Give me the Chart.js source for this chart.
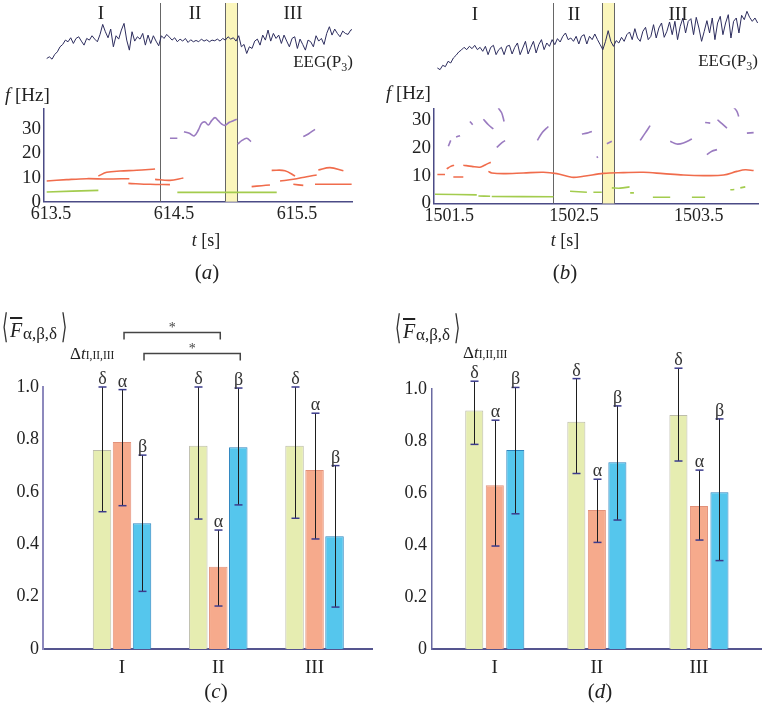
<!DOCTYPE html>
<html>
<head>
<meta charset="utf-8">
<title>EEG frequency tracks and band means</title>
<script src="https://cdn.jsdelivr.net/npm/chart.js@4.4.1/dist/chart.umd.min.js"></script>
<style>
  html, body { margin: 0; padding: 0; background: #fff; }
  #page { position: relative; width: 762px; height: 711px; overflow: hidden; }
  #page canvas { position: absolute; }
  #labels { position: absolute; left: 0; top: 0; pointer-events: none; }
  #labels text { font-family: 'Liberation Serif', 'Times New Roman', serif; fill: #222; }
  #labels text.delim { font-family: 'DejaVu Sans', sans-serif; fill: #333; }
</style>
</head>
<body>
<div id="page">
  <canvas id="chartA" width="381" height="260" style="left:0;top:0"></canvas>
  <canvas id="chartB" width="381" height="260" style="left:381px;top:0"></canvas>
  <canvas id="chartC" width="381" height="380" style="left:0;top:300px"></canvas>
  <canvas id="chartD" width="381" height="380" style="left:381px;top:300px"></canvas>

  <svg id="labels" width="762" height="711" xmlns="http://www.w3.org/2000/svg">
    <!-- interval names -->
    <g font-size="19" text-anchor="middle">
      <text x="101" y="19">I</text>
      <text x="195" y="19">II</text>
      <text x="293" y="19">III</text>
      <text x="475" y="20">I</text>
      <text x="574" y="20">II</text>
      <text x="678" y="20">III</text>
    </g>
    <text x="353" y="67" font-size="17" text-anchor="end">EEG(P<tspan font-size="12" dy="4">3</tspan><tspan dy="-4">)</tspan></text>
    <text x="758" y="66" font-size="17" text-anchor="end">EEG(P<tspan font-size="12" dy="4">3</tspan><tspan dy="-4">)</tspan></text>

    <text x="5" y="101" font-size="19"><tspan font-style="italic">f</tspan> [Hz]</text>
    <text x="386" y="99" font-size="19"><tspan font-style="italic">f</tspan> [Hz]</text>

    <text x="206" y="246" font-size="18" text-anchor="middle"><tspan font-style="italic">t</tspan> [s]</text>
    <text x="565" y="246" font-size="18" text-anchor="middle"><tspan font-style="italic">t</tspan> [s]</text>

    <text x="207" y="279" font-size="21" text-anchor="middle">(<tspan font-style="italic">a</tspan>)</text>
    <text x="565" y="279" font-size="21" text-anchor="middle">(<tspan font-style="italic">b</tspan>)</text>
    <text x="216" y="698" font-size="21" text-anchor="middle">(<tspan font-style="italic">c</tspan>)</text>
    <text x="600" y="698" font-size="21" text-anchor="middle">(<tspan font-style="italic">d</tspan>)</text>

    <!-- y label of the bar panels -->
    <g>
      <text class="delim" transform="translate(2,338) scale(0.5,1.05)" font-size="32">⟨</text>
      <text x="10" y="337" font-size="20" font-style="italic" text-decoration="overline">F</text>
      <text x="23" y="339" font-size="17">α,β,δ</text>
      <text class="delim" transform="translate(61,338) scale(0.5,1.05)" font-size="32">⟩</text>
      <text x="70" y="359" font-size="17">Δ<tspan font-style="italic">t</tspan><tspan font-size="11.5">I,II,III</tspan></text>
    </g>
    <g transform="translate(393,1)">
      <text class="delim" transform="translate(2,338) scale(0.5,1.05)" font-size="32">⟨</text>
      <text x="10" y="337" font-size="20" font-style="italic" text-decoration="overline">F</text>
      <text x="23" y="339" font-size="17">α,β,δ</text>
      <text class="delim" transform="translate(61,338) scale(0.5,1.05)" font-size="32">⟩</text>
      <text x="70" y="357" font-size="17">Δ<tspan font-style="italic">t</tspan><tspan font-size="11.5">I,II,III</tspan></text>
    </g>
  </svg>
</div>

<script>
// ---------- shared ----------
const SERIF = "'Liberation Serif', 'Times New Roman', serif";
const INK = '#222';
const AXIS = '#4b4b86';
const freqTicks = [0, 10, 20, 30];

// ---------- panel (a) : recording around 614 s ----------
// EEG(P3) samples (arbitrary amplitude units), evenly spaced in time
const eegA = [
  20, 25, 18, 32, 40, 55, 62, 75, 70, 82,
  65, 80, 85, 72, 60, 80, 75, 88, 78, 70,
  92, 122, 100, 82, 108, 55, 88, 78, 105, 125,
  75, 45, 100, 72, 85, 78, 95, 60, 90, 65,
  88, 72, 58, 88, 80, 92, 84, 75, 82, 70,
  78, 72, 80, 68, 76, 70, 74, 70, 78, 72,
  76, 70, 75, 73, 78, 72, 80, 75, 85, 78,
  82, 72, 88, 55, 62, 35, 55, 50, 72, 78,
  60, 90, 75, 105, 72, 95, 80, 90, 65, 90,
  72, 55, 80, 85, 50, 78, 62, 45, 75, 70,
  55, 88, 72, 80, 62, 95, 115, 90, 108, 95,
  85, 102, 95, 92, 105, 108
];
const EEG_A_START = 613.465, EEG_A_STEP = 0.02168;

// frequency tracks [t (s), f (Hz)], null = gap between pieces
const purpleA = [
  [614.467, 26.26], [614.527, 26.26], null,
  [614.581, 29.02], [614.625, 28.33], [614.663, 27.23], [614.698, 29.71], [614.725, 32.48],
  [614.752, 33.03], [614.779, 31.79], [614.806, 33.58], [614.833, 34.82], [614.86, 33.58],
  [614.888, 32.2], [614.915, 31.65], [614.95, 32.9], [614.982, 33.58], [615.01, 34.14], null,
  [615.018, 23.91], [615.05, 25.29], [615.091, 26.26], [615.126, 24.88], null,
  [615.551, 26.95], [615.592, 28.06], [615.646, 29.99]
];
const orangeA = [
  [613.465, 8.58], [613.627, 9.13], [613.79, 9.54], [613.953, 9.4], [614.137, 9.54], null,
  [613.885, 10.65], [613.953, 12.17], [614.061, 12.72], [614.197, 13.0], [614.346, 13.55], null,
  [614.129, 7.61], [614.305, 7.2], [614.467, 7.06], null,
  [614.346, 9.27], [614.467, 8.85], [614.576, 9.82], null,
  [615.131, 6.23], [615.213, 6.64], [615.28, 6.92], null,
  [615.294, 13.0], [615.402, 12.86], [615.484, 10.65], null,
  [615.362, 8.58], [615.47, 9.27], [615.579, 10.37], [615.66, 11.07], null,
  [615.673, 13.13], [615.768, 14.1], [615.877, 12.86], null,
  [615.47, 7.2], [615.551, 6.78], null,
  [615.646, 7.2], [615.944, 7.2]
];
const greenA = [
  [613.465, 4.02], [613.885, 4.71], null,
  [614.527, 3.88], [614.928, 3.88], [615.335, 3.88]
];
const timeTicksA = [613.5, 614.5, 615.5];
const boundaryA = 614.386;
const windowA = [614.915, 615.015];

// ---------- panel (b) : recording around 1502 s ----------
const eegB = [
  20, 15, 28, 24, 40, 35, 50, 58, 68, 74,
  82, 75, 85, 78, 88, 75, 82, 70, 85, 60,
  82, 88, 60, 75, 82, 60, 85, 88, 62, 82,
  95, 60, 80, 100, 62, 82, 100, 65, 90, 105,
  75, 95, 85, 105, 90, 108, 98, 115, 125, 105,
  110, 100, 115, 92, 115, 120, 92, 115, 105, 122,
  105, 90, 75, 100, 132, 100, 85, 102, 95, 112,
  100, 120, 128, 105, 138, 110, 100, 130, 142, 105,
  115, 150, 110, 140, 155, 112, 130, 158, 120, 160,
  105, 145, 170, 125, 160, 168, 120, 172, 140, 100,
  130, 162, 125, 170, 105, 155, 175, 120, 155, 180,
  110, 160, 170, 125, 178, 165, 190, 172, 160, 170,
  155
];
const EEG_B_START = 1501.404, EEG_B_STEP = 0.0214;

const purpleB = [
  [1501.492, 20.5], [1501.511, 22.6], null,
  [1501.554, 23.8], [1501.586, 24.3], null,
  [1501.665, 29.4], [1501.687, 28.2], null,
  [1501.773, 30.2], [1501.813, 28.2], [1501.853, 26.7], null,
  [1501.893, 34.2], [1501.92, 32.4], [1501.939, 29.4], null,
  [1501.88, 20.1], [1501.92, 21.7], [1501.947, 22.5], null,
  [1502.206, 22.6], [1502.241, 25.2], [1502.294, 27.6], null,
  [1502.563, 24.9], [1502.603, 25.2], [1502.643, 25.8], null,
  [1502.643, 35.4], [1502.657, 35.8], null,
  [1502.683, 16.9], [1502.69, 16.3], null,
  [1502.763, 21.4], [1502.803, 22.3], null,
  [1502.985, 38.3], [1503.01, 36.5], null,
  [1503.03, 22.6], [1503.07, 25.2], [1503.11, 27.9], null,
  [1503.271, 22.3], [1503.324, 21.3], [1503.377, 21.7], [1503.445, 23.1], null,
  [1503.551, 29.0], [1503.592, 28.8], null,
  [1503.65, 30.0], [1503.686, 28.6], [1503.726, 27.0], null,
  [1503.78, 34.5], [1503.806, 33.0], [1503.82, 31.2], null,
  [1503.886, 25.2], [1503.94, 25.4], null,
  [1503.565, 17.5], [1503.605, 18.7], [1503.646, 19.3]
];
const orangeB = [
  [1501.404, 10.4], [1501.465, 10.4], null,
  [1501.479, 12.4], [1501.511, 13.3], [1501.538, 13.7], null,
  [1501.532, 9.5], [1501.612, 9.5], null,
  [1501.612, 13.7], [1501.68, 13.3], [1501.746, 13.0], [1501.787, 13.8], [1501.832, 14.8], null,
  [1501.813, 11.5], [1501.84, 10.95], [1501.933, 10.7], [1502.094, 10.95], [1502.254, 11.2],
  [1502.362, 10.7], [1502.482, 9.4], [1502.575, 9.75], [1502.736, 10.8], [1502.896, 11.07],
  [1503.057, 11.2], [1503.217, 10.7], [1503.377, 10.2], [1503.539, 10.0], [1503.699, 10.2],
  [1503.806, 11.5], [1503.873, 12.1], [1503.94, 11.8]
];
const greenB = [
  [1501.385, 3.3], [1501.72, 3.1], null,
  [1501.733, 2.7], [1501.827, 2.6], null,
  [1501.84, 2.5], [1502.335, 2.4], null,
  [1502.468, 4.4], [1502.603, 4.05], null,
  [1502.655, 4.05], [1502.722, 4.05], null,
  [1502.803, 5.6], [1502.87, 5.5], [1502.945, 5.95], null,
  [1502.95, 3.8], [1502.98, 3.8], null,
  [1503.132, 2.26], [1503.271, 2.26], null,
  [1503.445, 2.26], [1503.551, 2.26], null,
  [1503.753, 4.9], [1503.785, 5.0], null,
  [1503.833, 5.6], [1503.873, 5.95]
];
const timeTicksB = [1501.5, 1502.5, 1503.5];
const boundaryB = 1502.335;
const windowB = [1502.728, 1502.824];

// ---------- panels (c) and (d) : mean F per interval ----------
const groups = ['I', 'II', 'III'];
const groupPos = [1, 2, 3];
const valueTicks = [0, 0.2, 0.4, 0.6, 0.8, 1.0];

const deltaC = [0.76, 0.776, 0.776];
const deltaCLow = [0.524, 0.496, 0.499];
const deltaCHigh = [1.0, 1.0, 1.0];
const alphaC = [0.79, 0.314, 0.683];
const alphaCLow = [0.547, 0.164, 0.42];
const alphaCHigh = [0.99, 0.454, 0.90];
const betaC = [0.48, 0.77, 0.43];
const betaCLow = [0.22, 0.55, 0.16];
const betaCHigh = [0.74, 0.996, 0.70];

// significance brackets in (c): dataset index (1 = α, 2 = β), bars compared, bracket level
const sigSeries = [1, 2];
const sigFrom = [0, 0];
const sigTo = [1, 1];
const sigLevel = [1.21, 1.13];

const deltaD = [0.917, 0.874, 0.90];
const deltaDLow = [0.787, 0.675, 0.723];
const deltaDHigh = [1.03, 1.04, 1.08];
const alphaD = [0.63, 0.535, 0.55];
const alphaDLow = [0.396, 0.41, 0.419];
const alphaDHigh = [0.88, 0.653, 0.688];
const betaD = [0.765, 0.718, 0.603];
const betaDLow = [0.52, 0.496, 0.34];
const betaDHigh = [1.006, 0.935, 0.885];

const BAND_COLORS = {
  delta: { fill: '#e6edb1', edge: '#bdbdab' },
  alpha: { fill: '#f6aa8c', edge: '#e2917a' },
  beta:  { fill: '#55c6ed', edge: '#2f86c0' }
};

// ---------- helpers ----------
function toPoints(pairs) {
  let lastX = 0;
  return pairs.map(p => {
    if (p === null) return { x: lastX, y: null };
    lastX = p[0];
    return { x: p[0], y: p[1] };
  });
}

function eegPoints(values, start, step) {
  return values.map((v, i) => ({ x: start + i * step, y: v }));
}

function strokeLine(ctx, x0, y0, x1, y1) {
  ctx.beginPath();
  ctx.moveTo(x0, y0);
  ctx.lineTo(x1, y1);
  ctx.stroke();
}

// fixed axis size, no extra padding for labels that stick out
function fixWidth(w) {
  return s => { s.width = w; s.paddingTop = 0; s.paddingBottom = 0; };
}
function fixHeight(h) {
  return s => { s.height = h; s.paddingLeft = 0; s.paddingRight = 0; };
}

// interval boundary + highlighted window
const regionsPlugin = {
  id: 'regions',
  beforeDatasetsDraw(chart, args, opts) {
    const { ctx, chartArea } = chart;
    const x = chart.scales.x;
    const b0 = x.getPixelForValue(opts.band[0]);
    const b1 = x.getPixelForValue(opts.band[1]);
    ctx.save();
    ctx.fillStyle = '#fbf6bc';
    ctx.fillRect(b0, chartArea.top, b1 - b0, chartArea.bottom - chartArea.top);
    ctx.strokeStyle = '#666';
    ctx.lineWidth = 1;
    [opts.boundary, opts.band[0], opts.band[1]].forEach(v => {
      const px = Math.round(x.getPixelForValue(v)) + 0.5;
      strokeLine(ctx, px, chartArea.top, px, chartArea.bottom);
    });
    ctx.restore();
  }
};

// error bars with band letter on top
const errorBarsPlugin = {
  id: 'errorBars',
  afterDatasetsDraw(chart) {
    const { ctx } = chart;
    const y = chart.scales.y;
    ctx.save();
    chart.data.datasets.forEach((ds, i) => {
      chart.getDatasetMeta(i).data.forEach((bar, j) => {
        const x = Math.round(bar.x) + 0.5;
        const top = y.getPixelForValue(ds.errHigh[j]);
        const bot = y.getPixelForValue(ds.errLow[j]);
        ctx.strokeStyle = '#1e1e1e';
        ctx.lineWidth = 1;
        strokeLine(ctx, x, top, x, bot);
        ctx.strokeStyle = '#3b3b8c';
        ctx.lineWidth = 1.5;
        strokeLine(ctx, x - 4, top, x + 4, top);
        strokeLine(ctx, x - 4, bot, x + 4, bot);
        ctx.fillStyle = '#333';
        ctx.font = `18px ${SERIF}`;
        ctx.textAlign = 'center';
        ctx.textBaseline = 'alphabetic';
        ctx.fillText(ds.greek, x, top - 3);
      });
    });
    ctx.restore();
  }
};

// significance brackets
const sigPlugin = {
  id: 'significance',
  afterDatasetsDraw(chart, args, opts) {
    if (!opts.series) return;
    const { ctx } = chart;
    const y = chart.scales.y;
    ctx.save();
    opts.series.forEach((dsIndex, k) => {
      const meta = chart.getDatasetMeta(dsIndex);
      const x0 = meta.data[opts.from[k]].x + 2;
      const x1 = meta.data[opts.to[k]].x + 2;
      const yy = Math.round(y.getPixelForValue(opts.level[k])) + 0.5;
      ctx.strokeStyle = '#444';
      ctx.lineWidth = 1.5;
      ctx.beginPath();
      ctx.moveTo(x0, yy + 7);
      ctx.lineTo(x0, yy);
      ctx.lineTo(x1, yy);
      ctx.lineTo(x1, yy + 7);
      ctx.stroke();
      ctx.fillStyle = '#444';
      ctx.font = `14px ${SERIF}`;
      ctx.textAlign = 'center';
      ctx.textBaseline = 'alphabetic';
      ctx.fillText('*', (x0 + x1) / 2, yy - 1);
    });
    ctx.restore();
  }
};

// ---------- top panels ----------
function makeTrace(id, c) {
  const track = (pairs, color) => ({
    data: toPoints(pairs), yAxisID: 'f', borderColor: color, borderWidth: 1.6,
    pointRadius: 0, tension: 0.35, spanGaps: false
  });
  return new Chart(document.getElementById(id), {
    type: 'line',
    data: {
      datasets: [
        { data: eegPoints(c.eeg, c.eegStart, c.eegStep), yAxisID: 'eeg', borderColor: '#2d2d5e',
          borderWidth: 1, pointRadius: 0, tension: 0 },
        track(c.green, '#a3cc4e'),
        track(c.orange, '#f06c4c'),
        track(c.purple, '#9a7bc0')
      ]
    },
    options: {
      responsive: false,
      animation: false,
      events: [],
      layout: { padding: { left: 0, top: 3, right: c.padRight, bottom: 0 } },
      plugins: {
        legend: { display: false },
        tooltip: { enabled: false },
        regions: { boundary: c.boundary, band: c.band }
      },
      scales: {
        x: {
          type: 'linear', min: c.tMin, max: c.tMax,
          afterBuildTicks: s => { s.ticks = c.timeTicks.map(v => ({ value: v })); },
          afterFit: fixHeight(c.xAxisHeight),
          grid: { display: false, drawTicks: false },
          border: { color: AXIS, width: 1.5 },
          ticks: { font: { family: SERIF, size: 18 }, color: INK, padding: 2, maxRotation: 0,
                   autoSkip: false, callback: v => v.toFixed(1) }
        },
        f: {
          type: 'linear', position: 'left', stack: 'panel', stackWeight: c.fWeight,
          min: 0, max: c.fMax,
          afterBuildTicks: s => { s.ticks = freqTicks.map(v => ({ value: v })); },
          afterFit: fixWidth(c.yAxisWidth),
          grid: { display: false, drawTicks: false },
          border: { color: AXIS, width: 1.5 },
          ticks: { font: { family: SERIF, size: 19 }, color: INK, padding: 3, autoSkip: false }
        },
        eeg: {
          type: 'linear', position: 'left', stack: 'panel', stackWeight: c.eegWeight,
          min: c.eegMin, max: c.eegMax,
          afterFit: fixWidth(c.yAxisWidth),
          grid: { display: false, drawTicks: false },
          border: { display: false },
          ticks: { display: false }
        }
      }
    },
    plugins: [regionsPlugin]
  });
}

makeTrace('chartA', {
  eeg: eegA, eegStart: EEG_A_START, eegStep: EEG_A_STEP,
  purple: purpleA, orange: orangeA, green: greenA,
  timeTicks: timeTicksA, boundary: boundaryA, band: windowA,
  tMin: 613.443, tMax: 615.947, fMax: 38.7, eegMin: -129, eegMax: 186,
  fWeight: 93.4, eegWeight: 105.3,
  padRight: 29, yAxisWidth: 44, xAxisHeight: 58.3
});

makeTrace('chartB', {
  eeg: eegB, eegStart: EEG_B_START, eegStep: EEG_B_STEP,
  purple: purpleB, orange: orangeB, green: greenB,
  timeTicks: timeTicksB, boundary: boundaryB, band: windowB,
  tMin: 1501.377, tMax: 1503.975, fMax: 34.1, eegMin: -101, eegMax: 215,
  fWeight: 95.2, eegWeight: 105.3,
  padRight: 4, yAxisWidth: 53, xAxisHeight: 56.5
});

// ---------- bottom panels ----------
function makeBars(id, c) {
  const band = (greek, values, lo, hi, colors) => ({
    greek, errLow: lo, errHigh: hi,
    data: values.map((v, i) => ({ x: groupPos[i], y: v })),
    backgroundColor: colors.fill, borderColor: colors.edge, borderWidth: 1,
    barPercentage: c.barPct, categoryPercentage: c.catPct
  });
  return new Chart(document.getElementById(id), {
    type: 'bar',
    data: {
      datasets: [
        band('δ', c.delta, c.deltaLow, c.deltaHigh, BAND_COLORS.delta),
        band('α', c.alpha, c.alphaLow, c.alphaHigh, BAND_COLORS.alpha),
        band('β', c.beta, c.betaLow, c.betaHigh, BAND_COLORS.beta)
      ]
    },
    options: {
      responsive: false,
      animation: false,
      events: [],
      layout: { padding: { left: 0, top: c.padTop, right: c.padRight, bottom: 0 } },
      plugins: {
        legend: { display: false },
        tooltip: { enabled: false },
        significance: c.sig || {}
      },
      scales: {
        x: {
          type: 'linear', offset: false, min: c.xMin, max: c.xMax,
          afterBuildTicks: s => { s.ticks = groupPos.map(v => ({ value: v })); },
          afterFit: fixHeight(31),
          grid: { display: false, drawTicks: false },
          border: { color: '#55558f', width: 2 },
          ticks: { font: { family: SERIF, size: 19 }, color: INK, padding: 8, maxRotation: 0,
                   autoSkip: false, callback: v => groups[groupPos.indexOf(v)] }
        },
        y: {
          min: 0, max: 1,
          afterBuildTicks: s => { s.ticks = valueTicks.map(v => ({ value: v })); },
          afterFit: fixWidth(c.yAxisWidth),
          grid: { display: false, drawTicks: false },
          border: { color: c.yBorder, width: c.yBorderWidth },
          ticks: { font: { family: SERIF, size: 18 }, color: INK, padding: c.yPad, autoSkip: false,
                   callback: v => (v === 0 ? '0' : v.toFixed(1)) }
        }
      }
    },
    plugins: [errorBarsPlugin, sigPlugin]
  });
}

makeBars('chartC', {
  delta: deltaC, deltaLow: deltaCLow, deltaHigh: deltaCHigh,
  alpha: alphaC, alphaLow: alphaCLow, alphaHigh: alphaCHigh,
  beta: betaC, betaLow: betaCLow, betaHigh: betaCHigh,
  sig: { series: sigSeries, from: sigFrom, to: sigTo, level: sigLevel },
  xMin: 0.179, xMax: 3.597, barPct: 0.925, catPct: 0.623,
  padTop: 87, padRight: 9, yAxisWidth: 43, yPad: 4,
  yBorder: '#8d89bd', yBorderWidth: 2
});

makeBars('chartD', {
  delta: deltaD, deltaLow: deltaDLow, deltaHigh: deltaDHigh,
  alpha: alphaD, alphaLow: alphaDLow, alphaHigh: alphaDHigh,
  beta: betaD, betaLow: betaDLow, betaHigh: betaDHigh,
  xMin: 0.385, xMax: 3.608, barPct: 0.88, catPct: 0.603,
  padTop: 89, padRight: 1, yAxisWidth: 51, yPad: 5,
  yBorder: '#6a6aa2', yBorderWidth: 1.5
});
</script>
</body>
</html>
